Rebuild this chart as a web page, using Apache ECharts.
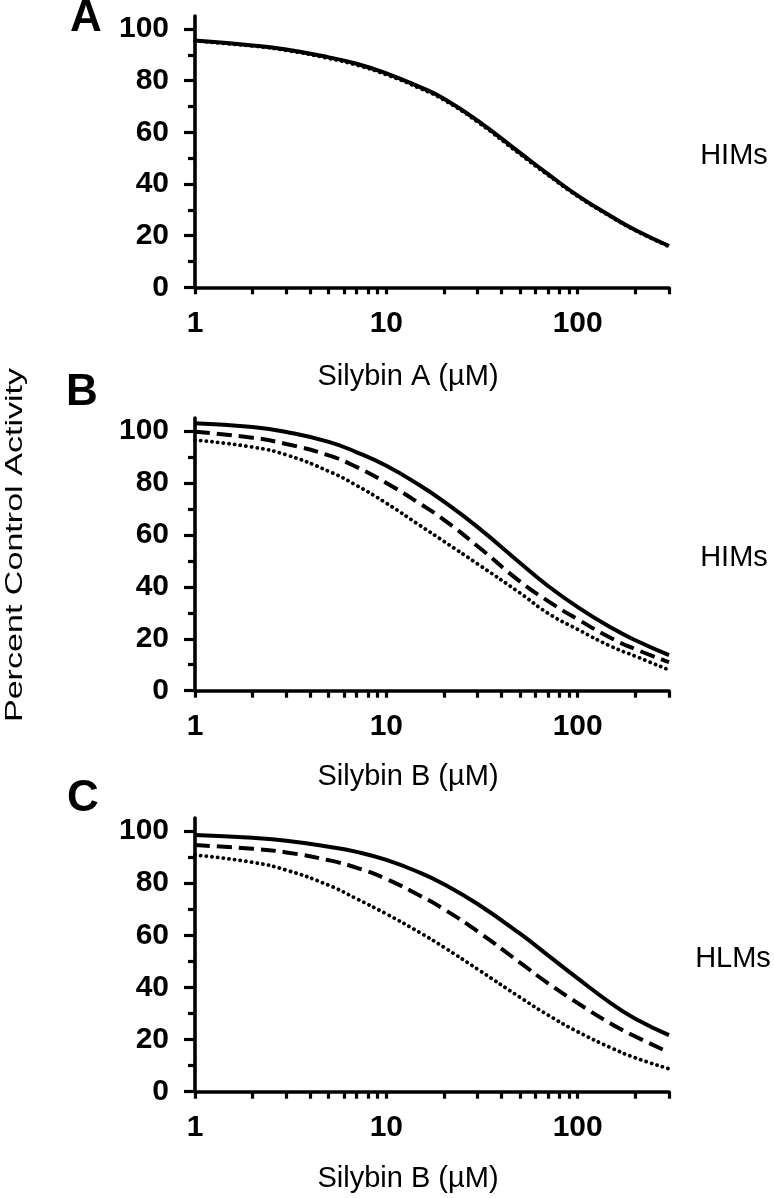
<!DOCTYPE html>
<html><head><meta charset="utf-8">
<script src="https://cdn.jsdelivr.net/npm/echarts@6/dist/echarts.min.js"></script>
<style>html,body{margin:0;padding:0;background:#fff}#c{width:774px;height:1198px}</style>
</head><body><div id="c"></div>
<script>
// ---- data ----
const concentrations = [1, 2, 3, 5, 7, 10, 15, 20, 30, 50, 70, 100, 150, 200, 300];
const xTickValues = [1,2,3,4,5,6,7,8,9,10,20,30,40,50,60,70,80,90,100,200,300];
const xLabelValues = [1, 10, 100];
const yLabelValues = [0, 20, 40, 60, 80, 100];
const yMinorValues = [10, 30, 50, 70, 90];
const panelLetters = ['A', 'B', 'C'];
const panelTitles = ['Silybin A (µM)', 'Silybin B (µM)', 'Silybin B (µM)'];
const panelTissues = ['HIMs', 'HIMs', 'HLMs'];

const aSolid  = [95.5, 93.6, 92.0, 89.0, 86.5, 82.8, 77.5, 73.0, 64.5, 52.0, 43.8, 35.5, 27.4, 22.2, 16.0];
const aDotted = [95.3, 93.4, 91.7, 88.6, 86.0, 82.3, 77.0, 72.5, 64.0, 51.5, 43.4, 35.2, 27.2, 22.0, 15.8];
const bSolid  = [103.0, 101.5, 99.6, 95.8, 91.8, 86.6, 79.0, 72.8, 63.0, 49.2, 40.3, 32.2, 24.2, 19.4, 13.7];
const bDashed = [99.7, 97.4, 95.0, 90.6, 86.1, 80.0, 72.0, 65.8, 55.6, 42.0, 34.5, 27.5, 20.2, 16.0, 11.0];
const bDotted = [96.5, 93.8, 90.8, 84.5, 79.0, 72.2, 63.6, 57.5, 48.8, 37.6, 29.8, 23.6, 17.0, 13.3, 8.0];
const cSolid  = [98.5, 97.4, 96.3, 94.0, 92.0, 88.9, 84.0, 79.6, 72.0, 60.6, 52.3, 43.5, 33.8, 28.0, 21.7];
const cDashed = [94.6, 93.2, 91.8, 88.8, 85.9, 81.6, 75.2, 70.0, 61.5, 49.5, 41.6, 34.0, 26.0, 21.2, 15.1];
const cDotted = [90.8, 88.0, 85.0, 79.2, 74.0, 68.2, 61.0, 55.4, 47.0, 36.2, 29.4, 23.0, 16.8, 13.0, 8.8];

const panelSeries = [
  [{d: aDotted, s: 'dotted'}, {d: aSolid, s: 'solid'}],
  [{d: bDotted, s: 'dotted'}, {d: bDashed, s: 'dashed'}, {d: bSolid, s: 'solid'}],
  [{d: cDotted, s: 'dotted'}, {d: cDashed, s: 'dashed'}, {d: cSolid, s: 'solid'}]
];

// ---- layout ----
const FONT = '"Liberation Sans", Arial, Helvetica, sans-serif';
const grids = [
  {left: 195, top: 16,  width: 474, height: 271.3},
  {left: 195, top: 418, width: 474, height: 272.7},
  {left: 195, top: 818, width: 474, height: 273.7}
];
const letterPos = [[86, 19], [82, 393], [83, 799]];
const titlePos = [[408, 377], [408, 777], [408, 1179]];
const tissuePos = [[734, 156], [734, 558], [733, 959]];

const lineStyles = {
  solid:  {type: 'solid', width: 4},
  dashed: {type: [15, 7], width: 4},
  dotted: {type: [0.1, 5.6], width: 3.8, cap: 'round'}
};

const xAxes = [], yAxes = [], series = [], graphics = [];
grids.forEach((g, i) => {
  xAxes.push({
    type: 'log', logBase: 10, min: 1, max: 300, gridIndex: i,
    axisLine: {show: true, lineStyle: {color: '#000', width: 3.6}},
    axisTick: {show: true, customValues: xTickValues, length: 7, lineStyle: {color: '#000', width: 3.2}},
    axisLabel: {customValues: xLabelValues, color: '#000', fontSize: 30, fontWeight: 'bold', fontFamily: FONT, margin: 21},
    splitLine: {show: false}, minorTick: {show: false}
  });
  yAxes.push({
    type: 'value', min: 0, max: 105, interval: 20, gridIndex: i,
    axisLine: {show: true, lineStyle: {color: '#000', width: 3.6}},
    axisTick: {show: true, customValues: yLabelValues, length: 11, lineStyle: {color: '#000', width: 3.2}},
    axisLabel: {customValues: yLabelValues, color: '#000', fontSize: 30, fontWeight: 'bold', fontFamily: FONT, margin: 26},
    splitLine: {show: false}
  });
  yAxes.push({
    type: 'value', min: 0, max: 105, interval: 20, gridIndex: i, position: 'left',
    axisLine: {show: false},
    axisTick: {show: true, customValues: yMinorValues, length: 7, lineStyle: {color: '#000', width: 3.2}},
    axisLabel: {show: false}, splitLine: {show: false}
  });
  panelSeries[i].forEach(ps => {
    series.push({
      type: 'line', xAxisIndex: i, yAxisIndex: i * 2, smooth: 0.5,
      showSymbol: false, silent: true, clip: false,
      data: concentrations.map((x, k) => [x, ps.d[k]]),
      lineStyle: Object.assign({color: '#000'}, lineStyles[ps.s])
    });
  });
  graphics.push({type: 'text', x: letterPos[i][0], y: letterPos[i][1],
    style: {text: panelLetters[i], fontSize: 44, fontWeight: 'bold', fontFamily: FONT, fill: '#000', align: 'center', verticalAlign: 'middle', textAlign: 'center', textVerticalAlign: 'middle'}});
  graphics.push({type: 'text', x: titlePos[i][0], y: titlePos[i][1],
    style: {text: panelTitles[i], fontSize: 29, fontFamily: FONT, fill: '#000', align: 'center', verticalAlign: 'middle', textAlign: 'center', textVerticalAlign: 'middle'}});
  graphics.push({type: 'text', x: tissuePos[i][0], y: tissuePos[i][1],
    style: {text: panelTissues[i], fontSize: 29, fontFamily: FONT, fill: '#000', align: 'center', verticalAlign: 'middle', textAlign: 'center', textVerticalAlign: 'middle'}});
});
graphics.push({type: 'text', x: 15, y: 545, rotation: Math.PI / 2, scaleX: 1.42,
  style: {text: 'Percent Control Activity', fontSize: 24, fontFamily: FONT, fill: '#000', align: 'center', verticalAlign: 'middle', textAlign: 'center', textVerticalAlign: 'middle'}});

const chart = echarts.init(document.getElementById('c'), null, {renderer: 'canvas'});
chart.setOption({
  animation: false,
  backgroundColor: '#fff',
  grid: grids.map(g => Object.assign({containLabel: false}, g)),
  xAxis: xAxes, yAxis: yAxes, series: series, graphic: graphics
});
</script></body></html>
